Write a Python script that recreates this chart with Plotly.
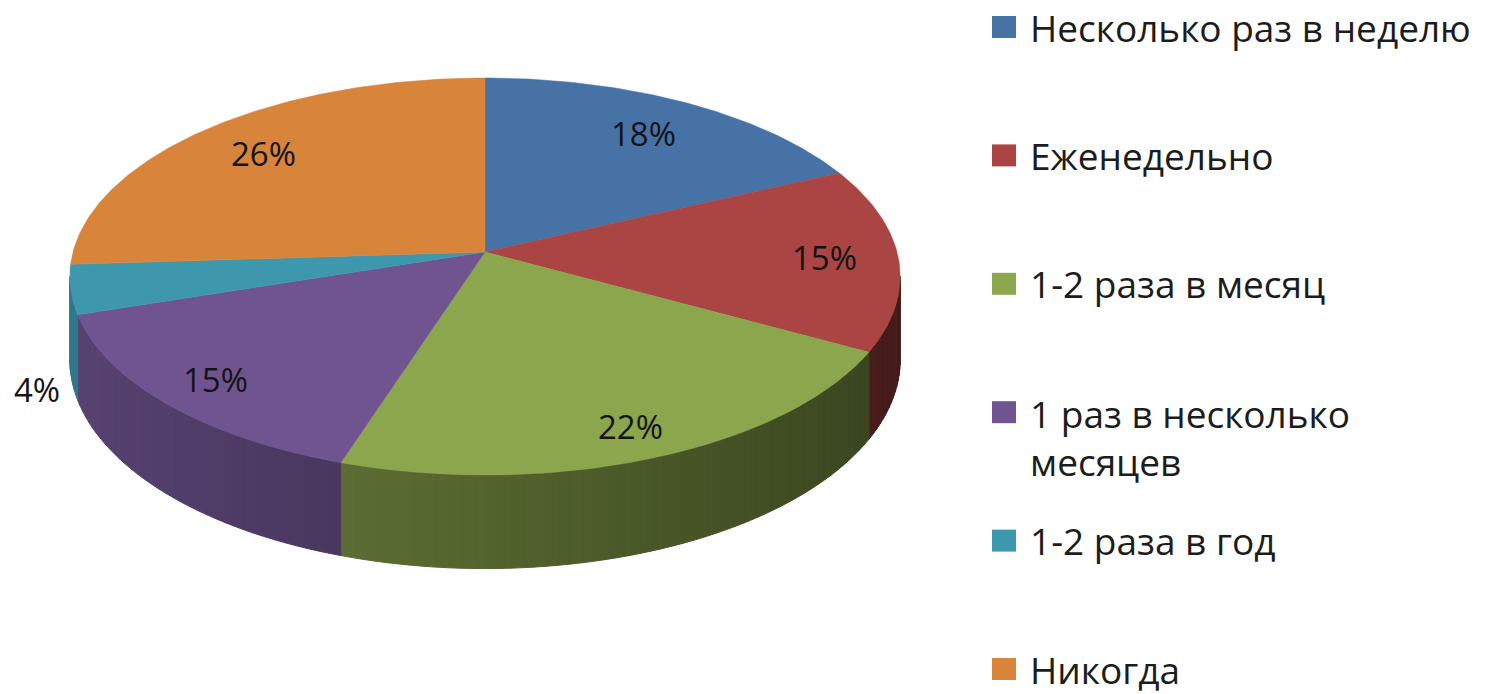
import numpy as np
import plotly.graph_objects as go

# ---- data ----
categories = ["Несколько раз в неделю", "Еженедельно", "1-2 раза в месяц",
              "1 раз в несколько<br>месяцев", "1-2 раза в год", "Никогда"]
values = [18, 15, 22, 15, 4, 26]
colors = ["#4672a6", "#aa4543", "#8ba64c", "#6f5490", "#3d98ae", "#d9843b"]

# ---- geometry / style (pixel space) ----
W, H = 1489, 694
CX, CY = 485, 252          # pie centre on screen
A, B = 412, 195.5          # horizontal / vertical radius scale
K = 0.1234                 # perspective strength
D = 82                     # slab thickness
LABEL_FONT = dict(family="Open Sans", size=33, color="#141414")
LEG_FONT = dict(family="Open Sans", size=37, color="#1c1c1c")


def proj(X, S, z=0.0):
    den = 1 - K * S
    return CX + A * X / den, CY + (B * S + z * D) / den


def hex2rgb(h):
    h = h.lstrip("#")
    return tuple(int(h[i:i + 2], 16) for i in (0, 2, 4))


def shade(h, f):
    r, g, b = hex2rgb(h)
    return "rgb(%d,%d,%d)" % (r * f, g * f, b * f)


fig = go.Figure()
total = sum(values)
fr = np.cumsum([0] + values) / total
phis = fr * 2 * np.pi

# ---- visible rim (sides) ----
vis_a = np.pi / 2 + np.arcsin(K)
vis_b = 3 * np.pi / 2 - np.arcsin(K)
for i, c in enumerate(colors):
    a0, a1 = max(phis[i], vis_a), min(phis[i + 1], vis_b)
    if a1 <= a0:
        continue
    n = max(1, int(np.ceil((a1 - a0) / np.radians(1.5))))
    edges = np.linspace(a0, a1, n + 1)
    for j in range(n):
        p0, p1 = edges[j], edges[j + 1]
        pts = [(p0, 0), (p1, 0), (p1, 1), (p0, 1), (p0, 0)]
        xs, ys = [], []
        for p, z in pts:
            x, y = proj(np.sin(p), -np.cos(p), z)
            xs.append(x)
            ys.append(y)
        xm = np.sin((p0 + p1) / 2)
        col = shade(c, 0.6 - 0.2 * xm)
        fig.add_trace(go.Scatter(x=xs, y=ys, mode="lines", fill="toself",
                                 fillcolor=col, line=dict(color=col, width=1),
                                 hoverinfo="skip", showlegend=False))

# ---- top faces ----
for i, c in enumerate(colors):
    n = max(2, int(np.ceil((phis[i + 1] - phis[i]) / np.radians(0.75))))
    ang = np.linspace(phis[i], phis[i + 1], n + 1)
    xs, ys = [CX], [CY]
    for p in ang:
        x, y = proj(np.sin(p), -np.cos(p))
        xs.append(x)
        ys.append(y)
    xs.append(CX)
    ys.append(CY)
    fig.add_trace(go.Scatter(x=xs, y=ys, mode="lines", fill="toself",
                             fillcolor=c, line=dict(color=c, width=0.5),
                             hoverinfo="skip", showlegend=False,
                             name=categories[i].replace("<br>", " ")))

# ---- data labels ----
annotations = []
for i, v in enumerate(values):
    pm = (phis[i] + phis[i + 1]) / 2
    X, S = np.sin(pm), -np.cos(pm)
    if v / total < 0.05:
        r = 1.08
        x, y = proj(r * X, r * S, 1.15)
    else:
        r = 0.82 + 0.05 * S
        x, y = proj(r * X, r * S)
    annotations.append(dict(x=x, y=y, xref="x", yref="y", text=f"{v}%",
                            showarrow=False, font=LABEL_FONT,
                            xanchor="center", yanchor="middle"))

# ---- legend (drawn as shapes + text) ----
shapes = []
LEG_X0, LEG_Y0, LEG_STEP = 992, 27, 128.4
for i, (cat, c) in enumerate(zip(categories, colors)):
    yc = LEG_Y0 + LEG_STEP * i
    shapes.append(dict(type="rect", xref="x", yref="y",
                       x0=LEG_X0, x1=LEG_X0 + 24, y0=yc - 11, y1=yc + 11,
                       fillcolor=c, line=dict(width=0)))
    nlines = cat.count("<br>") + 1
    annotations.append(dict(x=LEG_X0 + 36, y=yc + (nlines - 1) * 0.68 * LEG_FONT["size"],
                            xref="x", yref="y", text=cat, showarrow=False,
                            font=LEG_FONT, xanchor="left", yanchor="middle",
                            align="left"))

fig.update_layout(
    width=W, height=H,
    margin=dict(l=0, r=0, t=0, b=0),
    paper_bgcolor="white", plot_bgcolor="white",
    xaxis=dict(range=[0, W], visible=False, fixedrange=True),
    yaxis=dict(range=[H, 0], visible=False, fixedrange=True),
    showlegend=False,
    annotations=annotations, shapes=shapes,
)

fig.write_html("out.html", config={"displayModeBar": False},
               post_script="document.body.style.margin='0';")
